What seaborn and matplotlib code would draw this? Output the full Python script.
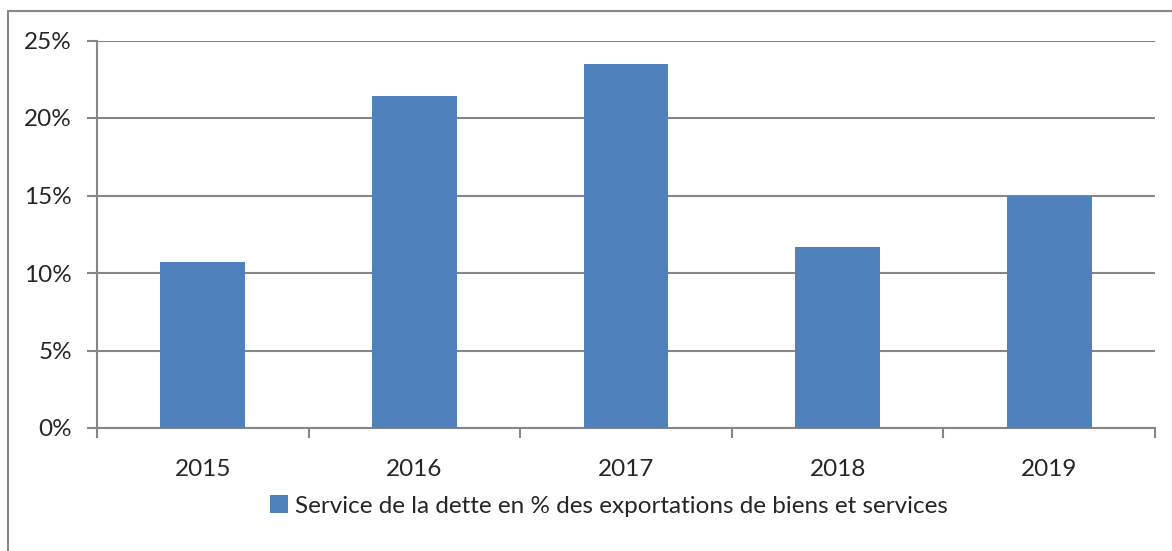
import numpy as np
import pandas as pd
import matplotlib
matplotlib.use('Agg')
import matplotlib.pyplot as plt
from matplotlib.patches import Rectangle
from matplotlib.ticker import FuncFormatter
import seaborn as sns

# Data
years = ['2015', '2016', '2017', '2018', '2019']
debt_service = [10.7, 21.4, 23.5, 11.7, 15.0]  # % of exports of goods and services
series_label = 'Service de la dette en % des exportations de biens et services'

df = pd.DataFrame({'annee': years, 'valeur': debt_service})

sns.set_style('white')
plt.rcParams['font.family'] = ['Lato', 'DejaVu Sans']

grid_col = '#868686'
bar_col = '#4F81BD'

fig = plt.figure(figsize=(11.72, 5.51), dpi=100)
ax = fig.add_axes([97 / 1172, 1 - 428 / 551, (1155 - 97) / 1172, (428 - 40.5) / 551])

sns.barplot(data=df, x='annee', y='valeur', color=bar_col, width=0.4,
            saturation=1, label=series_label, ax=ax, zorder=3,
            edgecolor=bar_col, linewidth=0)

ax.set_ylim(0, 25)
ax.set_xlim(-0.5, len(years) - 0.5)
ax.set_yticks(np.arange(0, 26, 5))
ax.yaxis.set_major_formatter(FuncFormatter(lambda v, p: f'{v:.0f}%'))
ax.set_xlabel('')
ax.set_ylabel('')

ax.grid(axis='y', color=grid_col, linewidth=1.5, zorder=0)
ax.set_axisbelow(True)

for s in ['top', 'right']:
    ax.spines[s].set_visible(False)
for s in ['left', 'bottom']:
    ax.spines[s].set_color(grid_col)
    ax.spines[s].set_linewidth(1.5)

# category labels at centres, tick marks at boundaries
ax.set_xticks(np.arange(-0.5, len(years), 1.0), minor=True)
ax.tick_params(axis='x', which='major', bottom=True, length=0, pad=22, labelsize=17.5)
ax.tick_params(axis='x', which='minor', bottom=True, length=7, width=1.5, color=grid_col, direction='out')
ax.tick_params(axis='y', left=True, length=7, width=1.5, color=grid_col, direction='out', pad=11, labelsize=17.5)

leg = ax.legend(loc='center', bbox_to_anchor=(609 / 1172, 1 - 506 / 551),
                bbox_transform=fig.transFigure, frameon=False, fontsize=17.5,
                handlelength=0.75, handleheight=0.75, handletextpad=0.3)

# outer chart border (left and top visible)
fig.patches.append(Rectangle((8 / 1172, -0.05), 1.2, 1 - 11 / 551 + 0.05,
                             transform=fig.transFigure, fill=False,
                             edgecolor=grid_col, linewidth=1.5))

plt.savefig('out.png', dpi=100)
